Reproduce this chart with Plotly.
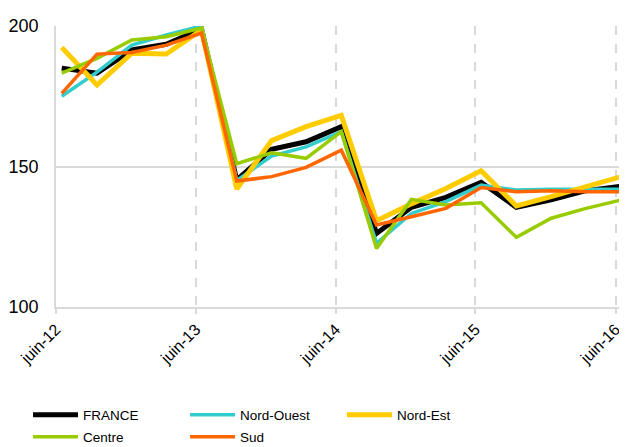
import plotly.graph_objects as go

periods = ["2012-06", "2012-09", "2012-12", "2013-03", "2013-06", "2013-09", "2013-12",
           "2014-03", "2014-06", "2014-09", "2014-12", "2015-03", "2015-06", "2015-09",
           "2015-12", "2016-03", "2016-06"]

france = [185.0, 183.2, 191.5, 193.5, 199.0, 145.2, 156.1, 158.8, 164.2, 126.2, 135.5, 139.0, 144.4, 135.5, 138.1, 141.4, 143.0]
nord_ouest = [175.0, 183.6, 193.2, 196.8, 200.0, 145.0, 153.7, 157.0, 162.4, 122.7, 133.3, 137.5, 143.4, 141.6, 141.9, 141.9, 141.9]
nord_est = [192.4, 179.0, 190.3, 190.0, 198.6, 142.0, 159.2, 164.2, 168.2, 130.7, 136.7, 142.2, 148.5, 136.0, 139.3, 143.0, 146.4]
centre = [183.2, 188.5, 195.0, 196.2, 199.3, 151.0, 154.9, 152.9, 162.4, 120.8, 138.3, 136.3, 137.1, 124.8, 131.6, 135.1, 138.1]
sud = [176.0, 190.0, 190.6, 193.2, 197.5, 144.8, 146.4, 149.7, 155.8, 129.2, 132.1, 135.1, 142.5, 141.0, 141.4, 141.0, 141.0]

tick_dates = ["2012-06-01", "2013-06-01", "2014-06-01", "2015-06-01", "2016-06-01"]
tick_labels = ["juin-12", "juin-13", "juin-14", "juin-15", "juin-16"]

x = [p + "-16" for p in periods]

series = [
    ("FRANCE", france, "#000000", 5, "legend"),
    ("Nord-Ouest", nord_ouest, "#33CCCC", 3.5, "legend"),
    ("Nord-Est", nord_est, "#FFCC00", 5, "legend"),
    ("Centre", centre, "#99CC00", 3.5, "legend2"),
    ("Sud", sud, "#FF6600", 3.5, "legend2"),
]

FONT = "Liberation Sans, Arial, sans-serif"

fig = go.Figure()
for name, vals, color, w, lg in series:
    fig.add_trace(go.Scatter(x=x, y=vals, name=name, mode="lines", legend=lg,
                             line=dict(color=color, width=w)))

leg_common = dict(orientation="h", xanchor="left", yanchor="middle",
                  font=dict(size=13.5, family=FONT), entrywidth=97, entrywidthmode="pixels",
                  itemwidth=45, tracegroupgap=0, traceorder="normal",
                  bgcolor="rgba(0,0,0,0)")

# page body has an 8px margin: figure occupies 8..627 x 8..447 of the window
fig.update_layout(
    width=619, height=439,
    margin=dict(l=48, r=0, t=18, b=140, autoexpand=False),
    paper_bgcolor="white", plot_bgcolor="white",
    font=dict(family=FONT, color="#000000"),
    showlegend=True,
    legend=dict(x=-0.049, y=-(415 - 307) / 281, **leg_common),
    legend2=dict(x=-0.049, y=-(437 - 307) / 281, **leg_common),
)
fig.update_xaxes(
    type="date", range=["2012-06-01", "2016-07-01"],
    tickvals=tick_dates, ticktext=tick_labels, tickangle=-45,
    tickfont=dict(size=16, family=FONT), automargin=False,
    showgrid=True, gridcolor="#D9D9D9", griddash="dash", gridwidth=1.5,
    showline=True, linecolor="#D9D9D9", linewidth=1.5,
    ticks="outside", ticklen=5, tickcolor="#D9D9D9", tickwidth=1.5,
    zeroline=False,
)
fig.update_yaxes(
    range=[100, 200], tickvals=[100, 150, 200],
    tickfont=dict(size=18, family=FONT), automargin=False,
    showgrid=True, gridcolor="#D9D9D9", gridwidth=1.5,
    showline=True, linecolor="#D9D9D9", linewidth=1.5,
    ticks="", zeroline=False, ticklabelstandoff=12,
)

fig.write_html("out.html")
